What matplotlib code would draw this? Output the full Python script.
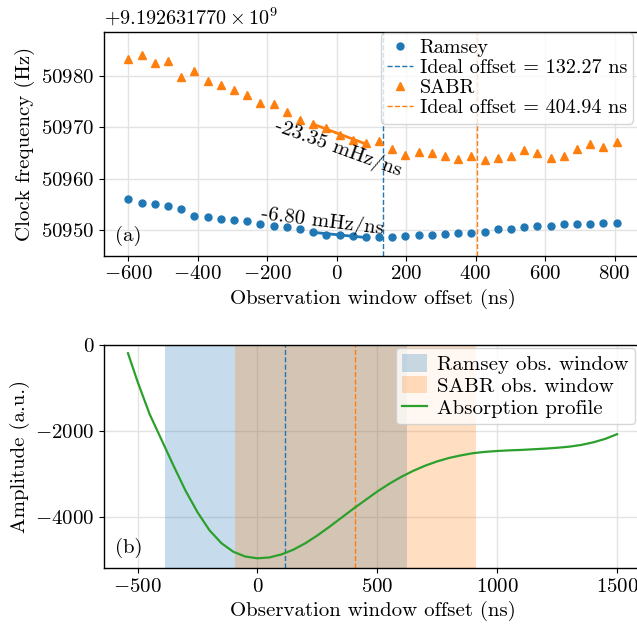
import numpy as np
import matplotlib
matplotlib.use("Agg")
import matplotlib.pyplot as plt

plt.rcParams.update({
    "font.family": "serif",
    "font.serif": ["cmr10", "DejaVu Serif"],
    "mathtext.fontset": "cm",
    "axes.formatter.use_mathtext": True,
    "font.size": 15,
    "axes.unicode_minus": True,
})

# ---------------- data (a) ----------------
offsets_ns = [-600, -562, -524, -486, -448, -410, -372, -334, -296, -258,
              -220, -182, -144, -106, -68, -30, 8, 46, 84, 122,
              160, 198, 236, 274, 312, 350, 388, 426, 464, 502,
              540, 578, 616, 654, 692, 730, 768, 806]
ramsey_hz = [56.1, 55.3, 55.1, 54.6, 54.0, 52.8, 52.6, 52.1, 51.9, 51.8,
             51.2, 50.8, 50.5, 50.2, 49.7, 49.1, 49.0, 48.8, 48.6, 48.6,
             48.6, 48.8, 49.0, 49.0, 49.2, 49.5, 49.5, 49.7, 50.1, 50.2,
             50.5, 50.8, 50.8, 51.1, 51.2, 51.2, 51.4, 51.4]
sabr_hz = [83.2, 84.0, 82.5, 82.8, 79.8, 80.9, 79.0, 78.3, 77.2, 76.3,
           74.7, 74.6, 72.9, 71.4, 70.6, 69.9, 68.4, 67.6, 66.9, 67.4,
           65.7, 64.6, 65.1, 65.0, 64.4, 63.9, 64.5, 63.7, 64.0, 64.5,
           65.5, 64.9, 64.1, 64.5, 65.7, 66.7, 66.2, 67.1]
freq_base = 50900.0          # Hz, added to the values above
offset_label = r"$+9.192631770 \times 10^{9}$"
ideal_ramsey = 132.27
ideal_sabr = 404.94
fit_window = [-68, 84]
slope_labels = ["-6.80 mHz/ns", "-23.35 mHz/ns"]

# ---------------- data (b) ----------------
profile_x = [-540, -500, -450, -400, -350, -300, -250, -200, -150, -100,
             -50, 0, 50, 100, 150, 200, 250, 300, 350, 400,
             450, 500, 550, 600, 650, 700, 750, 800, 850, 900,
             950, 1000, 1050, 1100, 1150, 1200, 1250, 1300, 1350, 1400,
             1450, 1500]
profile_amp = [-190, -850, -1600, -2200, -2800, -3380, -3880, -4300, -4600, -4800,
               -4910, -4950, -4930, -4860, -4750, -4600, -4420, -4220, -4010, -3800,
               -3600, -3400, -3220, -3060, -2920, -2800, -2700, -2620, -2560, -2510,
               -2480, -2460, -2445, -2435, -2420, -2405, -2385, -2360, -2320, -2260,
               -2180, -2070]
ramsey_window = [-386, 622]
sabr_window = [-94, 910]
window_centres = [117, 408]

C0, C1, C2 = "#1f77b4", "#ff7f0e", "#2ca02c"

W, H = 637, 625
fig = plt.figure(figsize=(W / 100, H / 100), dpi=100)

def axrect(l, t, r, b):
    return [l / W, 1 - b / H, (r - l) / W, (b - t) / H]

ax1 = fig.add_axes(axrect(104, 31.7, 641, 255.7))
ax2 = fig.add_axes(axrect(104, 345, 641, 568))

for ax in (ax1, ax2):
    ax.set_axisbelow(True)
    ax.grid(True, color="#e3e3e3", lw=1.0)
    ax.spines["right"].set_visible(False)
    for s in ("left", "bottom", "top"):
        ax.spines[s].set_linewidth(1.0)

# ---------------- panel (a) ----------------
x = np.array(offsets_ns, dtype=float)
yr = np.array(ramsey_hz) + freq_base
ys = np.array(sabr_hz) + freq_base

ax1.plot(x, yr, "o", color=C0, ms=5, label="Ramsey", zorder=3)
ax1.axvline(ideal_ramsey, color=C0, ls="--", lw=1.0,
            label=f"Ideal offset = {ideal_ramsey:.2f} ns")
ax1.plot(x, ys, "^", color=C1, ms=5.5, label="SABR", zorder=3)
ax1.axvline(ideal_sabr, color=C1, ls="--", lw=1.0,
            label=f"Ideal offset = {ideal_sabr:.2f} ns")

mask = (x >= fit_window[0]) & (x <= fit_window[1])
for yy, col in ((yr, C0), (ys, C1)):
    p = np.polyfit(x[mask], yy[mask], 1)
    xf = np.array(fit_window, dtype=float)
    ax1.plot(xf, np.polyval(p, xf), color=col, lw=2, zorder=4)

ax1.text(-42, 50951.6, slope_labels[0], rotation=-7, ha="center", va="center",
         rotation_mode="anchor")
ax1.text(3, 50965.9, slope_labels[1], rotation=-20, ha="center", va="center",
         rotation_mode="anchor")

ax1.set_xlim(-670, 876)
ax1.set_ylim(50945.0, 50988.6)
ax1.set_xticks([-600, -400, -200, 0, 200, 400, 600, 800])
ax1.set_yticks([50950, 50960, 50970, 50980])
ax1.set_xlabel("Observation window offset (ns)")
ax1.set_ylabel("Clock frequency (Hz)")
ax1.text(0, 1.015, offset_label, transform=ax1.transAxes, ha="left", va="bottom",
         fontsize=14.5)
ax1.text(0.02, 0.045, "(a)", transform=ax1.transAxes, ha="left", va="bottom")

bb1 = ax1.transAxes.inverted().transform(fig.transFigure.transform((633 / W, 1 - 33 / H)))
ax1.legend(loc="upper right", bbox_to_anchor=tuple(bb1), borderaxespad=0,
           fontsize=14.5, labelspacing=0.1, handlelength=1.25, handletextpad=0.35,
           borderpad=0.3, framealpha=0.8, edgecolor="#cccccc")

# ---------------- panel (b) ----------------
ax2.axvspan(*ramsey_window, color=C0, alpha=0.25, lw=0, label="Ramsey obs. window")
ax2.axvspan(*sabr_window, color=C1, alpha=0.25, lw=0, label="SABR obs. window")
ax2.axvline(window_centres[0], color=C0, ls="--", lw=1.0)
ax2.axvline(window_centres[1], color=C1, ls="--", lw=1.0)
ax2.plot(profile_x, profile_amp, color=C2, lw=1.6, label="Absorption profile")

ax2.set_xlim(-640, 1600)
ax2.set_ylim(-5175, 0)
ax2.set_xticks([-500, 0, 500, 1000, 1500])
ax2.set_yticks([0, -2000, -4000])
ax2.set_xlabel("Observation window offset (ns)")
ax2.set_ylabel("Amplitude (a.u.)")
ax2.text(0.02, 0.045, "(b)", transform=ax2.transAxes, ha="left", va="bottom")

bb2 = ax2.transAxes.inverted().transform(fig.transFigure.transform((635 / W, 1 - 348 / H)))
ax2.legend(loc="upper right", bbox_to_anchor=tuple(bb2), borderaxespad=0,
           labelspacing=0.1, handlelength=1.2, handleheight=0.9,
           handletextpad=0.5, borderpad=0.3, framealpha=0.8, edgecolor="#cccccc")

fig.savefig("out.png", dpi=100)
